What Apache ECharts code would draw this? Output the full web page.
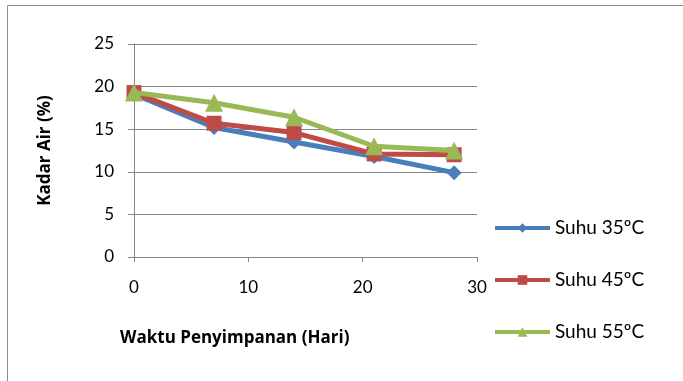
<!DOCTYPE html>
<html>
<head>
<meta charset="utf-8">
<script src="https://cdn.jsdelivr.net/npm/echarts@6/dist/echarts.min.js"></script>
<style>
  html, body { margin: 0; padding: 0; background: #fff; }
  #chart { width: 683px; height: 381px; }
</style>
</head>
<body>
<div id="chart"></div>
<script>
// hari penyimpanan
const days = [0, 7, 14, 21, 28];
const suhu35 = [19.1, 15.2, 13.5, 11.8, 9.9];
const suhu45 = [19.3, 15.7, 14.6, 12.1, 12.0];
const suhu55 = [19.3, 18.1, 16.4, 13.0, 12.5];
const seriesNames = ['Suhu 35ºC', 'Suhu 45ºC', 'Suhu 55ºC'];
const colors = ['#4A7EBB', '#BE4B48', '#98B954'];
const symbols = ['diamond', 'rect', 'triangle'];
const symbolSizes = [15, 15, 18];

const font = 'Lato, "Open Sans", sans-serif';
const boldFont = '"Open Sans", Lato, sans-serif';
const chart = echarts.init(document.getElementById('chart'));

const toPairs = (vals) => vals.map((v, i) => [days[i], v]);
const lines = [suhu35, suhu45, suhu55].map((vals, i) => ({
  name: seriesNames[i],
  type: 'line',
  data: toPairs(vals),
  symbol: symbols[i],
  symbolSize: symbolSizes[i],
  lineStyle: { width: 5, color: colors[i] },
  itemStyle: { color: colors[i] },
  z: 2 + i,
}));

chart.setOption({
  animation: false,
  textStyle: { fontFamily: font },
  grid: { left: 134, top: 44, right: 206, bottom: 124 },
  legend: {
    orient: 'vertical',
    left: 493,
    top: 218,
    padding: 0,
    itemWidth: 55,
    itemHeight: 12,
    itemGap: 32,
    lineStyle: { width: 4 },
    textStyle: { fontSize: 19, lineHeight: 20, color: '#000', fontFamily: font },
    data: seriesNames,
  },
  xAxis: {
    type: 'value',
    min: 0,
    max: 30,
    interval: 10,
    axisLine: { onZero: false, lineStyle: { color: '#868686', width: 1 } },
    axisTick: { show: true, length: 5, lineStyle: { color: '#868686' } },
    axisLabel: { fontSize: 17, color: '#000', margin: 22 },
    splitLine: { show: false },
  },
  yAxis: {
    type: 'value',
    min: 0,
    max: 25,
    interval: 5,
    name: 'Kadar Air (%)',
    nameLocation: 'middle',
    nameGap: 80,
    nameTextStyle: { fontSize: 17, fontWeight: 'bold', color: '#000', fontFamily: boldFont },
    axisLine: { show: true, lineStyle: { color: '#868686', width: 1 } },
    axisTick: { show: true, length: 6, lineStyle: { color: '#868686' } },
    axisLabel: { fontSize: 17, color: '#000', margin: 20 },
    splitLine: { lineStyle: { color: '#868686', width: 1 } },
  },
  graphic: [
    {
      type: 'rect',
      shape: { x: 7.5, y: 5.5, width: 900, height: 600 },
      style: { fill: 'none', stroke: '#8c8c8c', lineWidth: 1 },
      silent: true,
    },
    {
      type: 'text',
      left: 120,
      top: 330,
      style: { text: 'Waktu Penyimpanan (Hari)', fontSize: 17, fontWeight: 'bold', fill: '#000', fontFamily: boldFont },
    },
  ],
  series: lines,
});
</script>
</body>
</html>
